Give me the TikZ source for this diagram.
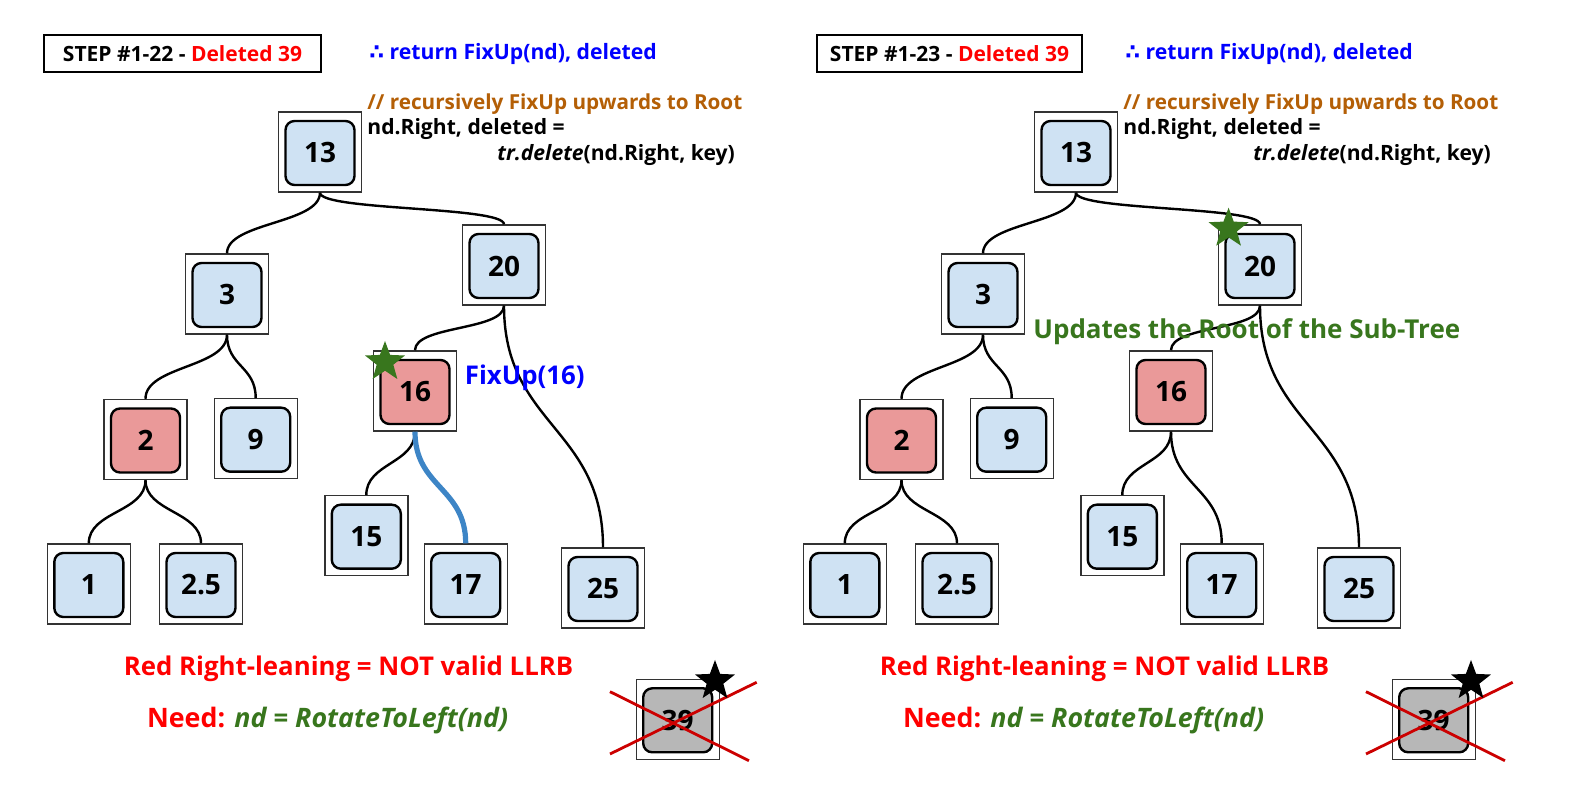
\documentclass[tikz,border=0pt]{standalone}
\usepackage{fontspec}
\setmainfont{Open Sans}
\newfontfamily\dejavu{DejaVu Sans}
\usetikzlibrary{shapes.geometric}
\definecolor{nblue}{HTML}{CFE2F3}
\definecolor{nred}{HTML}{EA9999}
\definecolor{ngray}{HTML}{B7B7B7}
\definecolor{sgreen}{HTML}{38761D}
\definecolor{codeor}{HTML}{B45F06}
\definecolor{eblue}{HTML}{3D85C6}
\definecolor{xred}{HTML}{CC0000}
\definecolor{tblue}{HTML}{0000FF}
\definecolor{tred}{HTML}{FF0000}
\tikzset{
  outerbox/.style={draw=black!80, line width=0.7pt, fill=white, minimum width=41.5pt, minimum height=40pt, inner sep=0pt},
  innerbox/.style={draw=black, line width=1.2pt, rounded corners=4.5pt, minimum width=34.5pt, minimum height=32pt, inner sep=0pt, font=\fontsize{14}{16}\selectfont\bfseries},
  edge/.style={draw=black, line width=1.2pt},
  hedge/.style={draw=eblue, line width=2.6pt},
  xline/.style={draw=xred, line width=1.4pt},
  stepbox/.style={draw=black, line width=1pt, inner sep=0pt, font=\fontsize{10.5}{12}\selectfont\bfseries},
  txt/.style={anchor=west, inner sep=0pt, font=\fontsize{10.55}{12}\selectfont\bfseries},
  comtxt/.style={anchor=west, inner sep=0pt, font=\fontsize{10.35}{12}\selectfont\bfseries},
  bigtxt/.style={anchor=west, inner sep=0pt, font=\fontsize{12.9}{14}\selectfont\bfseries},
  needtxt/.style={anchor=west, inner sep=0pt, font=\fontsize{13.4}{15}\selectfont\bfseries},
  gstar/.style={star, star points=5, star point ratio=2.4, fill=sgreen, draw=none, minimum size=21pt, inner sep=0pt},
  kstar/.style={star, star points=5, star point ratio=2.4, fill=black, draw=none, minimum size=21pt, inner sep=0pt},
}
\newcommand{\tn}[5]{%
  \node[outerbox] (#1) at (#2,#3) {};
  \node[innerbox, fill=#5] (#1i) at (#2,#3+1) {#4};
}
\newcommand{\ed}[4][edge]{%
  \draw[#1] (#2.south) .. controls +(0,#4) and +(0,-#4) .. (#3.north);
}
\begin{document}
\begin{tikzpicture}[x=0.5pt,y=-0.5pt]
\useasboundingbox (0,0) rectangle (1587,807);
\fill[white] (0,0) rectangle (1587,807);

% ================= LEFT PANEL =================
\node[stepbox, minimum width=138.5pt, minimum height=18.3pt] (stepL) at (182.5,53.3) {STEP \#1-22 - \textcolor{tred}{Deleted 39}};
\node[txt, text=tblue, font=\fontsize{10.6}{12}\selectfont\bfseries] (retL) at (369,53.5) {{\dejavu ∴} return FixUp(nd), deleted};
\node[comtxt, text=codeor] (comL) at (367,104) {// recursively FixUp upwards to Root};
\node[txt] (ndL) at (367,129.5) {nd.Right, deleted =};
\node[txt] (delL) at (497,155) {\itshape tr.delete\upshape(nd.Right, key)};

\tn{a13}{320}{152}{13}{nblue}
\tn{a3}{227}{294}{3}{nblue}
\tn{a20}{504}{265}{20}{nblue}
\tn{a16}{415}{391}{16}{nred}
\tn{a2}{145.5}{439.5}{2}{nred}
\tn{a9}{255.7}{438.7}{9}{nblue}
\tn{a1}{88.8}{584}{1}{nblue}
\tn{a25x}{201}{584}{2.5}{nblue}
\tn{a15}{366.3}{535.7}{15}{nblue}
\tn{a17}{465.7}{584}{17}{nblue}
\tn{a25}{603}{588}{25}{nblue}
\tn{a39}{677.7}{719.3}{39}{ngray}

\ed{a13}{a3}{31}
\ed{a13}{a20}{18}
\ed{a3}{a2}{33}
\ed{a3}{a9}{32}
\ed{a2}{a1}{32}
\ed{a2}{a25x}{32}
\ed{a20}{a16}{25}
\ed{a20}{a25}{120}
\ed{a16}{a15}{32}
\ed[hedge]{a16}{a17}{56}

\node[gstar] (gsL) at (385,362) {};
\node[bigtxt, text=tblue] (fixL) at (464.5,378) {FixUp(16)};

\draw[xline] (610,691.7) -- (749,760.7);
\draw[xline] (610,754) -- (756.7,682.3);
\node[kstar] (ksL) at (715,681) {};

\node[bigtxt, text=tred] (redL) at (123.5,669) {Red Right-leaning = NOT valid LLRB};
\node[needtxt, text=tred] (needL) at (146.7,720.5) {Need: \textcolor{sgreen}{\itshape nd = RotateToLeft(nd)}};

% ================= RIGHT PANEL =================
\node[stepbox, minimum width=132.8pt, minimum height=18.3pt] (stepR) at (949.5,53.3) {STEP \#1-23 - \textcolor{tred}{Deleted 39}};
\node[txt, text=tblue, font=\fontsize{10.6}{12}\selectfont\bfseries] (retR) at (1125,53.5) {{\dejavu ∴} return FixUp(nd), deleted};
\node[comtxt, text=codeor] (comR) at (1123,104) {// recursively FixUp upwards to Root};
\node[txt] (ndR) at (1123,129.5) {nd.Right, deleted =};
\node[txt] (delR) at (1253,155) {\itshape tr.delete\upshape(nd.Right, key)};

\tn{b13}{1076}{152}{13}{nblue}
\tn{b3}{983}{294}{3}{nblue}
\tn{b20}{1260}{265}{20}{nblue}
\tn{b16}{1171}{391}{16}{nred}
\tn{b2}{901.5}{439.5}{2}{nred}
\tn{b9}{1011.7}{438.7}{9}{nblue}
\tn{b1}{844.8}{584}{1}{nblue}
\tn{b25x}{957}{584}{2.5}{nblue}
\tn{b15}{1122.3}{535.7}{15}{nblue}
\tn{b17}{1221.7}{584}{17}{nblue}
\tn{b25}{1359}{588}{25}{nblue}
\tn{b39}{1433.7}{719.3}{39}{ngray}

\ed{b13}{b3}{31}
\ed{b13}{b20}{18}
\ed{b3}{b2}{33}
\ed{b3}{b9}{32}
\ed{b2}{b1}{32}
\ed{b2}{b25x}{32}
\ed{b20}{b16}{25}
\ed{b20}{b25}{120}
\ed{b16}{b15}{32}
\ed{b16}{b17}{56}

\node[gstar] (gsR) at (1228.6,228.7) {};
\node[bigtxt, text=sgreen, font=\fontsize{13}{15}\selectfont\bfseries] (updR) at (1033,332) {Updates the Root of the Sub-Tree};

\draw[xline] (1366,691.7) -- (1505,760.7);
\draw[xline] (1366,754) -- (1512.7,682.3);
\node[kstar] (ksR) at (1471,681) {};

\node[bigtxt, text=tred] (redR) at (879.5,669) {Red Right-leaning = NOT valid LLRB};
\node[needtxt, text=tred] (needR) at (902.7,720.5) {Need: \textcolor{sgreen}{\itshape nd = RotateToLeft(nd)}};
\end{tikzpicture}
\end{document}
